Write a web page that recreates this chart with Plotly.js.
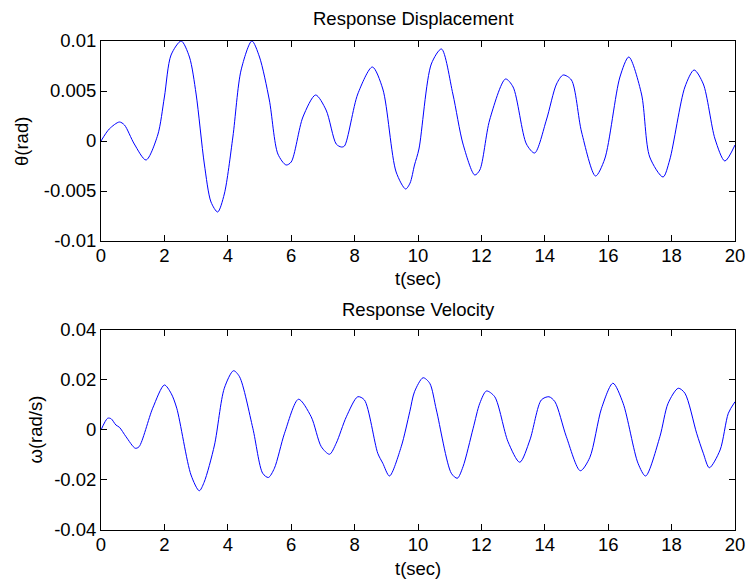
<!DOCTYPE html>
<html>
<head>
<meta charset="utf-8">
<script src="https://cdn.plot.ly/plotly-3.0.1.min.js"></script>
<style>html,body{margin:0;padding:0;background:#fff;}#chart{width:750px;height:586px;}</style>
</head>
<body>
<div id="chart"></div>
<script>
// Response displacement theta(rad) vs t(sec)
var timeDisp = [0, 0.26, 0.58, 0.74, 1.05, 1.42, 1.79, 2.0, 2.21, 2.53, 2.79, 3.0, 3.26, 3.47, 3.68, 3.89, 4.16, 4.42, 4.76, 5.0, 5.31, 5.58, 5.84, 6.0, 6.37, 6.77, 7.1, 7.42, 7.58, 7.68, 8.1, 8.56, 8.89, 9.31, 9.61, 9.75, 9.89, 10.03, 10.42, 10.74, 11.1, 11.42, 11.79, 11.95, 12.26, 12.76, 13.0, 13.42, 13.68, 14.05, 14.37, 14.58, 14.84, 15.16, 15.6, 15.89, 16.37, 16.65, 17.05, 17.31, 17.73, 17.94, 18.42, 18.71, 19.0, 19.37, 19.68, 20];
var theta = [0, 0.0012, 0.0019, 0.0016, -0.0003, -0.0019, 0.0006, 0.0044, 0.0086, 0.0100, 0.0084, 0.0047, -0.0023, -0.0061, -0.0071, -0.0053, 0.0004, 0.0071, 0.0100, 0.0084, 0.0041, -0.0013, -0.0024, -0.0021, 0.0024, 0.0046, 0.0031, -0.0003, -0.0006, -0.0005, 0.0047, 0.0074, 0.0052, -0.0031, -0.0048, -0.0042, -0.0024, -0.0008, 0.0077, 0.0092, 0.0047, -0.0003, -0.0034, -0.0029, 0.0021, 0.0062, 0.0054, -0.0003, -0.0012, 0.0021, 0.0057, 0.0066, 0.0061, 0.0009, -0.0035, -0.0018, 0.0064, 0.0084, 0.0047, -0.0016, -0.0036, -0.0019, 0.0054, 0.0071, 0.0057, 0.0002, -0.0020, -0.0004];

// Response velocity omega(rad/s) vs t(sec)
var timeVel = [0, 0.21, 0.32, 0.47, 0.58, 0.79, 1.08, 1.2, 1.63, 2.0, 2.21, 2.39, 2.84, 3.1, 3.25, 3.58, 3.89, 4.18, 4.37, 4.79, 5.1, 5.28, 5.47, 5.79, 6.23, 6.63, 6.95, 7.21, 7.42, 7.74, 8.1, 8.31, 8.73, 8.89, 9.1, 9.47, 9.74, 9.89, 10.16, 10.37, 10.58, 11.05, 11.24, 11.42, 11.74, 11.95, 12.16, 12.42, 12.84, 13.21, 13.53, 13.89, 14.13, 14.32, 14.68, 15.12, 15.42, 15.79, 16.15, 16.47, 16.94, 17.18, 17.63, 17.89, 18.21, 18.42, 18.79, 19.0, 19.19, 19.53, 19.79, 20];
var omega = [0, 0.0047, 0.0045, 0.0020, 0.0011, -0.0027, -0.0073, -0.0067, 0.0087, 0.0180, 0.0147, 0.0087, -0.0180, -0.0243, -0.0210, -0.0060, 0.0167, 0.0237, 0.0213, 0.0007, -0.0173, -0.0190, -0.0153, -0.0013, 0.0123, 0.0053, -0.0067, -0.0097, -0.0053, 0.0053, 0.0133, 0.0120, -0.0093, -0.0133, -0.0184, -0.0067, 0.0073, 0.0153, 0.0209, 0.0187, 0.0080, -0.0173, -0.0193, -0.0147, 0.0007, 0.0107, 0.0156, 0.0133, -0.0047, -0.0129, -0.0040, 0.0120, 0.0133, 0.0113, -0.0027, -0.0163, -0.0110, 0.0087, 0.0187, 0.0107, -0.0133, -0.0184, -0.0027, 0.0107, 0.0167, 0.0147, -0.0013, -0.0093, -0.0151, -0.0080, 0.0067, 0.0113];

var xTickVals = [0, 2, 4, 6, 8, 10, 12, 14, 16, 18, 20];
var xTickText = ['0', '2', '4', '6', '8', '10', '12', '14', '16', '18', '20'];
var yTickVals1 = [-0.01, -0.005, 0, 0.005, 0.01];
var yTickText1 = ['-0.01', '-0.005', '0', '0.005', '0.01'];
var yTickVals2 = [-0.04, -0.02, 0, 0.02, 0.04];
var yTickText2 = ['-0.04', '-0.02', '0', '0.02', '0.04'];

var titleTop = 'Response Displacement';
var titleBottom = 'Response Velocity';
var xLabel = 't(sec)';
var yLabelTop = 'θ(rad)';
var yLabelBottom = 'ω(rad/s)';

var FONT = 'Liberation Sans, Arial, sans-serif';
var FS = 18.5;

var traces = [
  {x: timeDisp, y: theta, type: 'scatter', mode: 'lines', xaxis: 'x', yaxis: 'y',
   line: {color: '#0000ff', width: 1, shape: 'spline', smoothing: 0.8}, hoverinfo: 'skip'},
  {x: timeVel, y: omega, type: 'scatter', mode: 'lines', xaxis: 'x2', yaxis: 'y2',
   line: {color: '#0000ff', width: 1, shape: 'spline', smoothing: 0.8}, hoverinfo: 'skip'}
];

function axisBase(extra) {
  var a = {
    showline: true, linecolor: '#000', linewidth: 1, mirror: 'ticks',
    ticks: 'inside', ticklen: 6, tickwidth: 1, tickcolor: '#000',
    showgrid: false, zeroline: false, tickmode: 'array',
    tickfont: {family: FONT, size: FS, color: '#000'}, fixedrange: true
  };
  for (var k in extra) a[k] = extra[k];
  return a;
}

var layout = {
  width: 750, height: 586,
  margin: {l: 101, r: 15, t: 41, b: 56},
  paper_bgcolor: '#fff', plot_bgcolor: '#fff',
  showlegend: false,
  xaxis: axisBase({domain: [0, 1], range: [0, 20], tickvals: xTickVals, ticktext: xTickText, anchor: 'y', ticklabelstandoff: -2}),
  yaxis: axisBase({domain: [0.591, 1], range: [-0.01, 0.01], tickvals: yTickVals1, ticktext: yTickText1, anchor: 'x'}),
  xaxis2: axisBase({domain: [0, 1], range: [0, 20], tickvals: xTickVals, ticktext: xTickText, anchor: 'y2', ticklabelstandoff: -2}),
  yaxis2: axisBase({domain: [0, 0.409], range: [-0.04, 0.04], tickvals: yTickVals2, ticktext: yTickText2, anchor: 'x2'}),
  annotations: [
    {text: titleTop, xref: 'paper', yref: 'paper', x: 0.493, y: 1.046, xanchor: 'center', yanchor: 'middle', showarrow: false, font: {family: FONT, size: FS, color: '#000'}},
    {text: xLabel, xref: 'paper', yref: 'paper', x: 0.5, y: 0.5143, xanchor: 'center', yanchor: 'middle', showarrow: false, font: {family: FONT, size: FS, color: '#000'}},
    {text: titleBottom, xref: 'paper', yref: 'paper', x: 0.5, y: 0.4509, xanchor: 'center', yanchor: 'middle', showarrow: false, font: {family: FONT, size: FS, color: '#000'}},
    {text: xLabel, xref: 'paper', yref: 'paper', x: 0.5, y: -0.0787, xanchor: 'center', yanchor: 'middle', showarrow: false, font: {family: FONT, size: FS, color: '#000'}},
    {text: yLabelTop, xref: 'paper', yref: 'paper', x: -0.1262, y: 0.7955, xanchor: 'center', yanchor: 'middle', textangle: -90, showarrow: false, font: {family: FONT, size: FS, color: '#000'}},
    {text: yLabelBottom, xref: 'paper', yref: 'paper', x: -0.1033, y: 0.2045, xanchor: 'center', yanchor: 'middle', textangle: -90, showarrow: false, font: {family: FONT, size: FS, color: '#000'}}
  ]
};

Plotly.newPlot('chart', traces, layout, {displayModeBar: false, staticPlot: true});
</script>
</body>
</html>
